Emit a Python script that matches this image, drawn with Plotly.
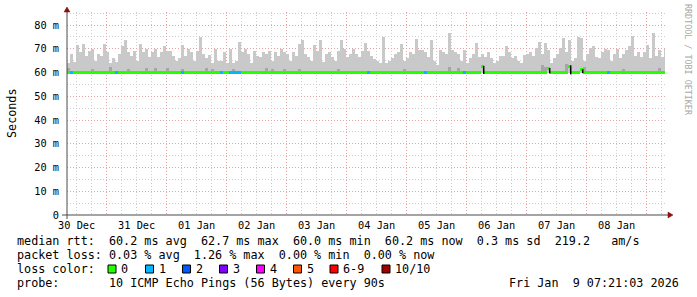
import plotly.graph_objects as go
from datetime import datetime, timedelta

# ---------------- data ----------------
start_time = datetime(2025, 12, 30, 8, 9)
end_time = datetime(2026, 1, 9, 7, 21)
step_minutes = 72

# upper edge of the smoke (max ping, ms) per 72-minute column
smoke_max_a = [64, 68, 64.5, 71.5, 68.5, 72, 67, 69, 70, 65, 68, 67, 72, 68.5, 64, 66, 64.5, 68, 71, 73.5,
               68.5, 67, 69, 65, 72, 68.5, 70, 66.5, 68.5, 70, 66.5, 68.5, 71, 69, 69, 67, 65, 66, 71.5, 67,
               70, 68.5, 65, 69, 75, 68, 66, 67.5, 64, 70]
smoke_max_b = [65, 65, 68.5, 64, 70, 64, 65, 73, 68.5, 70, 68, 64, 69, 67, 66.5, 68.5, 68, 69, 65, 68.5,
               67, 70, 68.5, 68, 65, 68.5, 67, 72, 73.5, 68, 66.5, 65, 71.5, 69, 73.5, 64.5, 68, 68.5, 66.5, 65,
               69, 73.5, 70, 66.5, 68, 70, 68, 66.5, 69, 72.5]
smoke_max_c = [69, 67, 65.5, 65, 64, 75, 64, 65, 66, 68, 68.5, 72, 65, 66, 68.5, 68, 74, 69.5, 69.5, 68.5,
               66.5, 73.5, 65, 63, 69.5, 68.5, 68, 76.5, 69.5, 68.5, 68, 65, 69.5, 64, 66, 68, 72.5, 66.5, 68, 66.5,
               68.5, 66, 64, 65, 67, 67, 71, 68.5, 66, 67]
smoke_max_d = [65, 64, 67.5, 68, 68.5, 67, 70.5, 73, 68, 72.5, 69.5, 64, 66, 68, 70.5, 74.5, 68.5, 73.5, 65, 66,
               75, 74.5, 65, 68, 70.5, 71, 66.5, 66, 68.5, 70, 69.5, 65, 68, 70, 66, 68, 69.5, 71, 75.5, 67,
               68.5, 66.5, 68.5, 71.5, 66, 76.5, 67, 69.5, 66.5, 70]
smoke_max = smoke_max_a + smoke_max_b + smoke_max_c + smoke_max_d
smoke_min = 60.0

# darker smoke patches near the median: column -> top (ms)
dark_patches = {0: 62, 8: 61.5, 14: 62.3, 20: 61.6, 26: 61.8, 29: 62, 33: 62, 38: 61.6, 46: 61.8, 48: 61.5,
                55: 61.4, 66: 61.7, 68: 61.5, 72: 61.6, 77: 61.5, 90: 61.4, 112: 61.5, 127: 62.5, 130: 61.8,
                158: 63, 159: 62.5, 166: 63.5, 172: 62.2, 185: 61.6, 197: 61.8}

median_level = 60.2
median_bumps = {138: 62.4, 160: 61.8, 167: 62.6, 171: 61.2}
loss_one_cols = [1, 16, 38, 51, 54, 55, 56, 57, 100, 119, 132, 180]

spike_cols = [138, 160, 167, 171]
spike_low = [59.4, 59.6, 59.2, 59.7]
spike_high = [62.8, 61.9, 63.0, 61.4]

loss_labels = ["0", "1", "2", "3", "4", "5", "6-9", "10/10"]
loss_colors = ["#26ff00", "#00b8ff", "#0059ff", "#7e00ff", "#ff00ff", "#ff5500", "#ff0000", "#a10000"]

day_labels = ["30 Dec", "31 Dec", "01 Jan", "02 Jan", "03 Jan", "04 Jan", "05 Jan", "06 Jan", "07 Jan", "08 Jan"]
y_tick_vals = [0, 10, 20, 30, 40, 50, 60, 70, 80]
y_tick_text = ["0", "10 m", "20 m", "30 m", "40 m", "50 m", "60 m", "70 m", "80 m"]

line_rtt = "median rtt:  60.2 ms avg  62.7 ms max  60.0 ms min  60.2 ms now  0.3 ms sd  219.2   am/s"
line_loss = "packet loss: 0.03 % avg  1.26 % max  0.00 % min  0.00 % now"
line_probe = "probe:       10 ICMP Echo Pings (56 Bytes) every 90s"
stamp = "Fri Jan  9 07:21:03 2026"
watermark = "RRDTOOL / TOBI OETIKER"

# ---------------- geometry ----------------
W, H = 697, 297
L, R, T, B = 67, 665, 12, 215
PW, PH = R - L, B - T
MONO = "DejaVu Sans Mono"


def px(x):
    return (x - L) / PW


def py(y):
    return (B - y) / PH


n = len(smoke_max)
xs = [start_time + timedelta(minutes=step_minutes * (i + 0.5)) for i in range(n)]
bar_w = step_minutes * 60 * 1000

median = [median_bumps.get(i, median_level) for i in range(n)]
loss = [1 if i in loss_one_cols else 0 for i in range(n)]
dark = [dark_patches.get(i, smoke_min) for i in range(n)]

fig = go.Figure()
fig.add_trace(go.Bar(x=xs, y=[v - smoke_min for v in smoke_max], base=smoke_min, width=bar_w,
                     marker=dict(color="#c9c9c9", line_width=0), hoverinfo="skip"))
fig.add_trace(go.Bar(x=xs, y=[v - smoke_min for v in dark], base=smoke_min, width=bar_w,
                     marker=dict(color="#a6a6a6", line_width=0), hoverinfo="skip"))
fig.add_trace(go.Bar(x=xs, y=[1.26] * n, base=[m - 0.63 for m in median], width=bar_w,
                     marker=dict(color=[loss_colors[k] for k in loss], line_width=0), hoverinfo="skip"))
sx, sy = [], []
for c, lo, hi in zip(spike_cols, spike_low, spike_high):
    xc = start_time + timedelta(minutes=step_minutes * (c + 0.9))
    sx += [xc, xc, None]
    sy += [lo, hi, None]
fig.add_trace(go.Scatter(x=sx, y=sy, mode="lines", line=dict(color="#000000", width=1.5), hoverinfo="skip"))
fig.add_trace(go.Scatter(x=[], y=[], xaxis="x2", hoverinfo="skip"))

midnights = [datetime(2025, 12, 31) + timedelta(days=d) for d in range(10)]
noons = [datetime(2025, 12, 30, 12) + timedelta(days=d) for d in range(len(day_labels))]

MAJOR = "#e3a3a3"
MINOR = "#cdcdcd"
DASH = "1px,2px"

fig.update_layout(
    width=W, height=H,
    margin=dict(l=L, r=W - R, t=T, b=H - B),
    paper_bgcolor="white", plot_bgcolor="white",
    showlegend=False, barmode="overlay", bargap=0,
    xaxis=dict(type="date", range=[start_time, end_time], tickmode="array", tickvals=midnights,
               showticklabels=False, ticks="", showgrid=True, gridcolor=MAJOR, griddash=DASH, gridwidth=1,
               zeroline=False, showline=False,
               minor=dict(tick0=datetime(2025, 12, 30), dtick=6 * 3600 * 1000, showgrid=True,
                          gridcolor=MINOR, griddash=DASH, gridwidth=1)),
    xaxis2=dict(type="date", overlaying="x", anchor="y", side="bottom", range=[start_time, end_time],
                tickmode="array", tickvals=noons, ticktext=day_labels, showgrid=False, ticks="",
                zeroline=False, showline=False, ticklabelstandoff=3,
                tickfont=dict(family=MONO, size=10.3, color="#000000")),
    yaxis=dict(range=[0, PH / 2.375], tickmode="array", tickvals=y_tick_vals, ticktext=y_tick_text,
               showgrid=True, gridcolor=MAJOR, griddash=DASH, gridwidth=1, zeroline=False, showline=False,
               ticks="", ticklabelstandoff=7,
               tickfont=dict(family=MONO, size=10.3, color="#000000"),
               minor=dict(dtick=5, showgrid=True, gridcolor=MINOR, griddash=DASH, gridwidth=1)),
)

AXIS = "#4a4a4a"
ARROW = "#8b1010"
shapes = [
    dict(type="line", xref="paper", yref="paper", x0=px(62), x1=px(669), y0=py(215), y1=py(215),
         line=dict(color=AXIS, width=1)),
    dict(type="line", xref="paper", yref="paper", x0=px(67), x1=px(67), y0=py(11), y1=py(219),
         line=dict(color=AXIS, width=1)),
    dict(type="path", xref="paper", yref="paper",
         path=f"M {px(64)} {py(12)} L {px(70)} {py(12)} L {px(67)} {py(7)} Z",
         fillcolor=ARROW, line=dict(color=ARROW, width=0.5)),
    dict(type="path", xref="paper", yref="paper",
         path=f"M {px(668)} {py(212)} L {px(668)} {py(218)} L {px(673)} {py(215)} Z",
         fillcolor=ARROW, line=dict(color=ARROW, width=0.5)),
]

FS = 11.75
annotations = [
    dict(text="Seconds", x=px(12), y=py(113), xref="paper", yref="paper", showarrow=False, textangle=-90,
         font=dict(family=MONO, size=FS, color="#000000"), xanchor="center", yanchor="middle"),
    dict(text=watermark, x=px(688), y=py(60), xref="paper", yref="paper", showarrow=False, textangle=90,
         font=dict(family=MONO, size=8.4, color="#a8a8a8"), xanchor="center", yanchor="middle"),
    dict(text=stamp, x=px(681), y=py(283), xref="paper", yref="paper", showarrow=False,
         font=dict(family=MONO, size=FS, color="#000000"), xanchor="right", yanchor="middle"),
]
for txt, yy in [(line_rtt, 241), (line_loss, 255), ("loss color:", 269), (line_probe, 283)]:
    annotations.append(dict(text=txt.replace(" ", "&nbsp;"), x=px(15), y=py(yy), xref="paper", yref="paper",
                            showarrow=False, font=dict(family=MONO, size=FS, color="#000000"),
                            xanchor="left", yanchor="middle"))

box_x = [108, 145.5, 182.5, 219.5, 256.5, 293.5, 330, 382]
for bx, lab, col in zip(box_x, loss_labels, loss_colors):
    shapes.append(dict(type="rect", xref="paper", yref="paper", x0=px(bx), x1=px(bx + 8),
                       y0=py(273), y1=py(265), fillcolor=col, line=dict(color="#000000", width=1)))
    annotations.append(dict(text=lab, x=px(bx + 11), y=py(269), xref="paper", yref="paper", showarrow=False,
                            font=dict(family=MONO, size=FS, color="#000000"), xanchor="left",
                            yanchor="middle"))

fig.update_layout(shapes=shapes, annotations=annotations)
fig.write_html("out.html")
